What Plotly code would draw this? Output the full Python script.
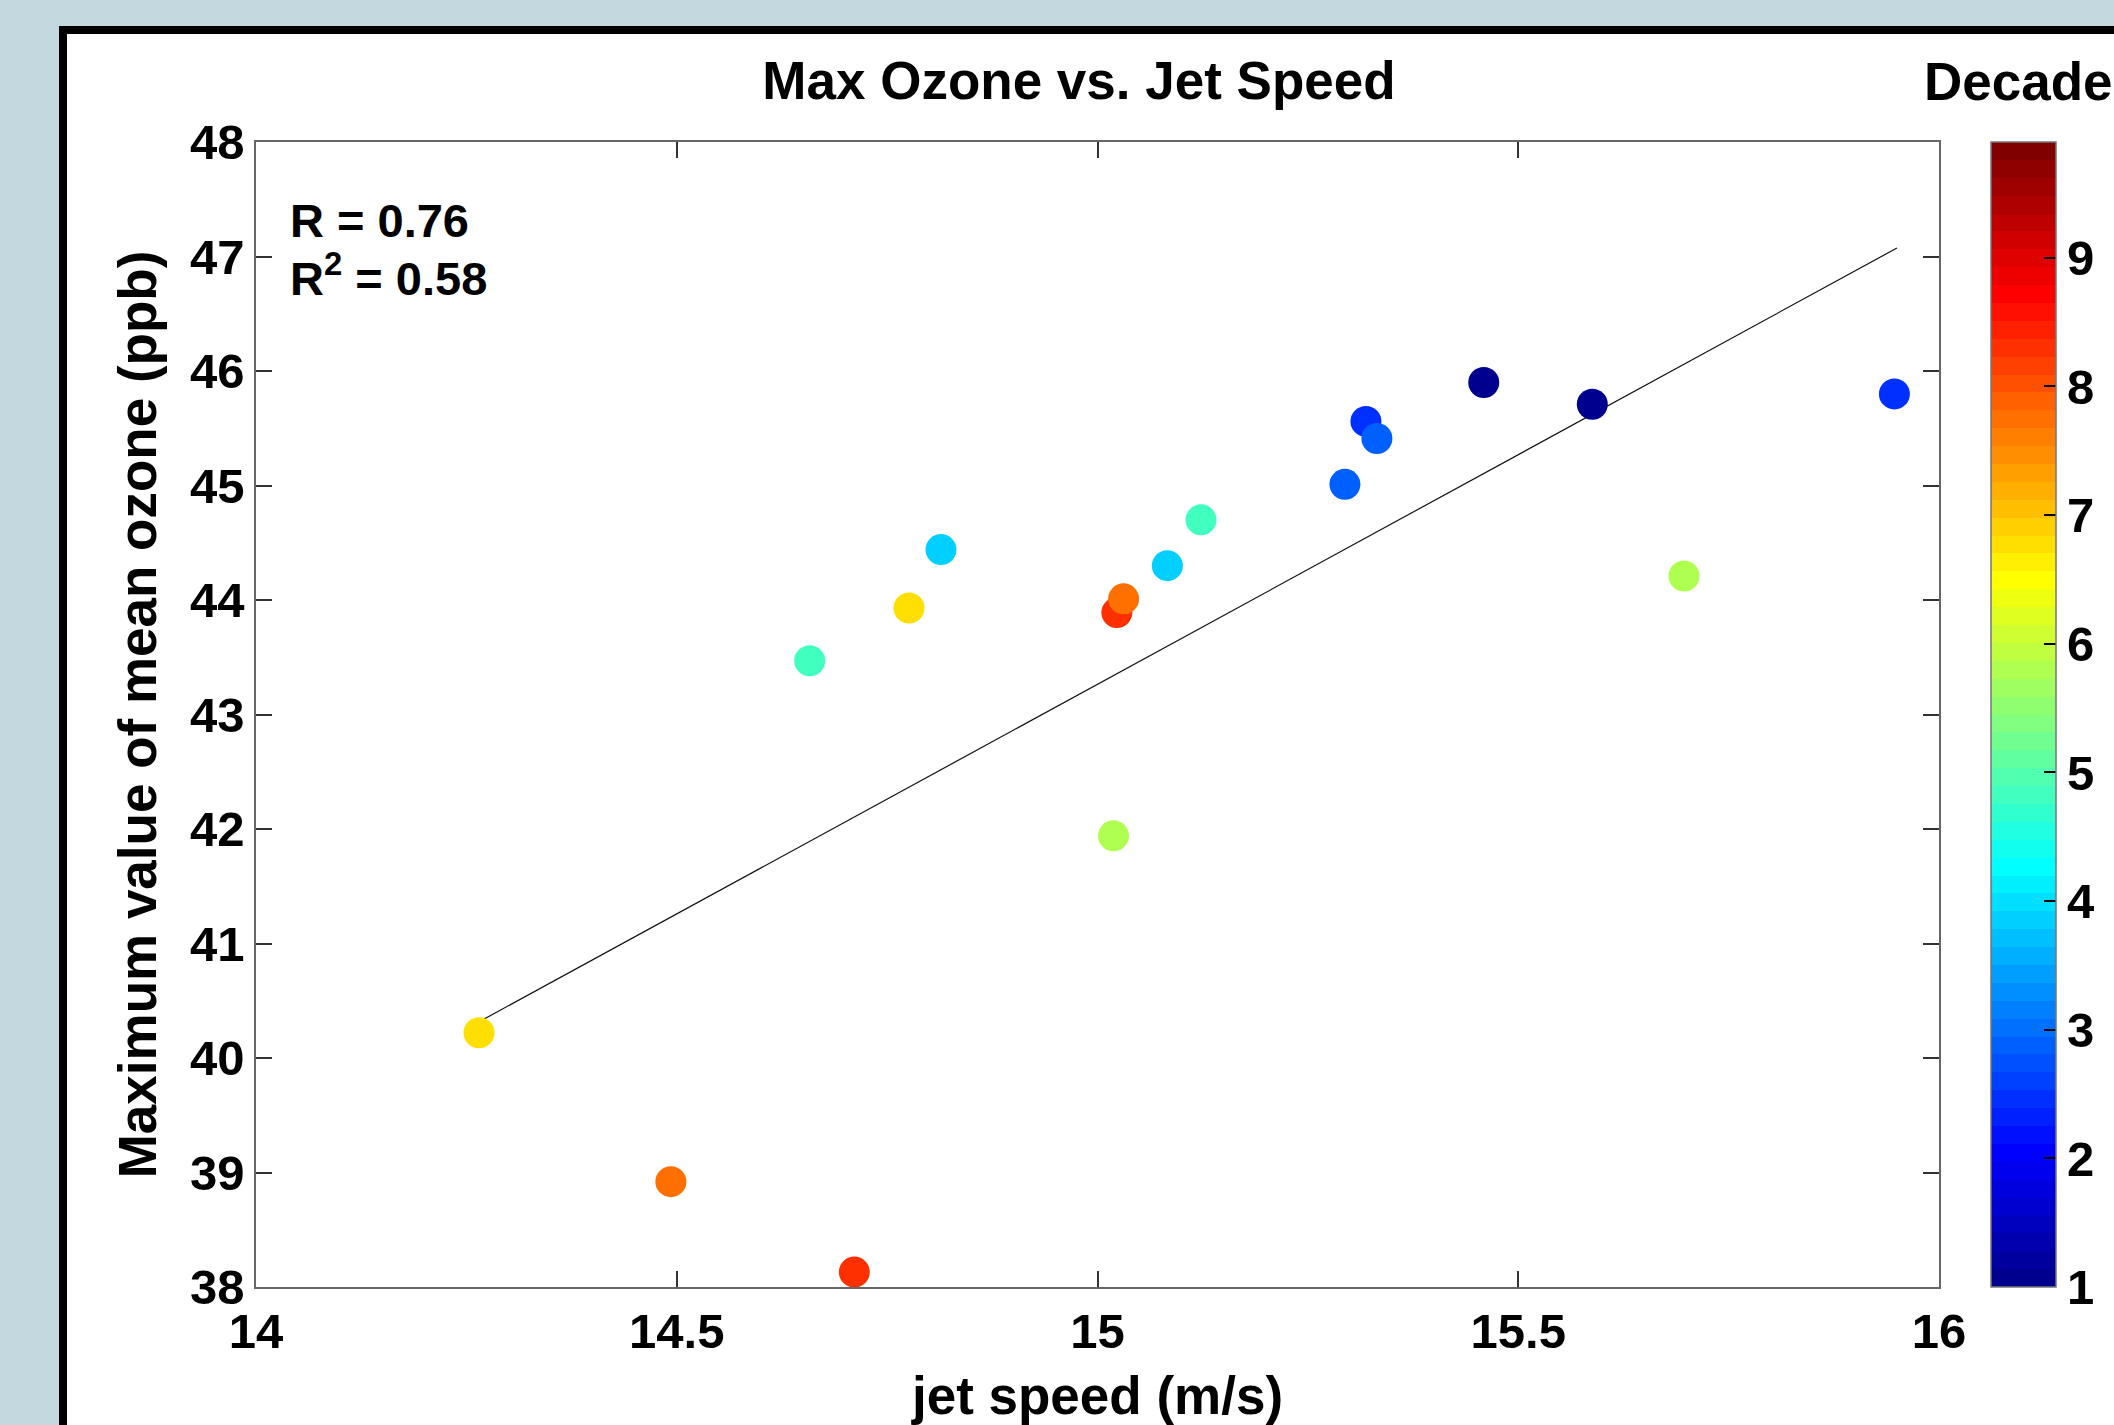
import numpy as np
import plotly.graph_objects as go

# ---------------- data ----------------
jet_speed = [14.265, 14.493, 14.711, 14.658, 14.776, 14.814, 15.019, 15.023, 15.031,
             15.083, 15.123, 15.294, 15.319, 15.332, 15.459, 15.588, 15.697, 15.947]
max_ozone = [40.22, 38.92, 38.13, 43.47, 43.93, 44.44, 41.94, 43.89, 44.01,
             44.30, 44.70, 45.01, 45.56, 45.41, 45.90, 45.71, 44.21, 45.80]
decade = [6.77, 7.74, 8.35, 4.82, 6.77, 3.85, 5.80, 8.35, 7.74,
          3.85, 4.82, 2.93, 2.46, 2.93, 1.05, 1.05, 5.80, 2.46]

fit_x = [14.265, 15.950]
fit_y = [40.316, 47.074]

x_ticks = [14, 14.5, 15, 15.5, 16]
x_ticktext = ["14", "14.5", "15", "15.5", "16"]
y_ticks = [38, 39, 40, 41, 42, 43, 44, 45, 46, 47, 48]
cbar_ticks = [1, 2, 3, 4, 5, 6, 7, 8, 9]
cbar_range = [1, 9.9]

title_text = "Max Ozone vs. Jet Speed"
x_title = "jet speed (m/s)"
y_title = "Maximum value of mean ozone (ppb)"
cbar_title = "Decade"
r_text = "R = 0.76"
r2_text = "R<sup>2</sup> = 0.58"

# ---------------- MATLAB jet(64) stepped colorscale ----------------
def jet(m=64):
    n = int(np.ceil(m / 4))
    u = np.concatenate([np.arange(1, n + 1) / n, np.ones(n - 1), np.arange(n, 0, -1) / n])
    g = int(np.ceil(n / 2)) - (1 if m % 4 == 1 else 0) + np.arange(1, len(u) + 1)
    r = g + n
    b = g - n
    g = g[g <= m]
    r = r[r <= m]
    b = b[b >= 1]
    J = np.zeros((m, 3))
    J[r - 1, 0] = u[:len(r)]
    J[g - 1, 1] = u[:len(g)]
    J[b - 1, 2] = u[len(u) - len(b):]
    return J

J = jet(64)
colorscale = []
for k, c in enumerate(J):
    col = "rgb(%d,%d,%d)" % tuple(int(round(v * 255)) for v in c)
    colorscale.append([k / 64, col])
    colorscale.append([(k + 1) / 64, col])

FONT = "Liberation Sans, Arial, Helvetica, sans-serif"
W, H = 2114, 1425
ML, MR, MT, MB = 256, 175, 142, 138
PW, PH = W - ML - MR, H - MT - MB

def px2paper_x(px):
    return (px - ML) / PW

def px2paper_y(py):
    return (H - MB - py) / PH

fig = go.Figure()

fig.add_trace(go.Scatter(
    x=fit_x, y=fit_y, mode="lines",
    line=dict(color="#111111", width=1.2),
    showlegend=False, hoverinfo="skip",
))

fig.add_trace(go.Scatter(
    x=jet_speed, y=max_ozone, mode="markers",
    marker=dict(
        size=31, color=decade, colorscale=colorscale,
        cmin=cbar_range[0], cmax=cbar_range[1],
        line=dict(width=0),
        showscale=True,
        colorbar=dict(
            x=px2paper_x(1991), xanchor="left", xref="paper",
            y=0.5, yanchor="middle", len=1, lenmode="fraction",
            thickness=65, thicknessmode="pixels",
            xpad=0, ypad=0,
            outlinewidth=1.5, outlinecolor="#777777",
            tickvals=cbar_ticks, ticks="inside", ticklen=12,
            tickcolor="black", tickwidth=1.5,
            tickfont=dict(family=FONT, size=49, color="black", weight="bold"),
        ),
    ),
    showlegend=False,
))

axis_common = dict(
    showline=True, linecolor="#666666", linewidth=1.5,
    mirror="ticks", ticks="inside", ticklen=16, tickwidth=1.5, tickcolor="#333333",
    showgrid=False, zeroline=False, automargin=False,
    tickfont=dict(family=FONT, size=49, color="black", weight="bold"),
)

fig.update_xaxes(
    range=[14, 16], tickvals=x_ticks, ticktext=x_ticktext,
    ticklabelstandoff=0,
    title=dict(text=x_title, font=dict(family=FONT, size=53, color="black", weight="bold"),
               standoff=26),
    **axis_common,
)
fig.update_yaxes(
    range=[38, 48], tickvals=y_ticks,
    title=dict(text=y_title, font=dict(family=FONT, size=53, color="black", weight="bold"),
               standoff=16),
    **axis_common,
)

fig.update_layout(
    width=W, height=H,
    margin=dict(l=ML, r=MR, t=MT, b=MB, pad=0, autoexpand=False),
    paper_bgcolor="#C4D8DF", plot_bgcolor="white",
    font=dict(family=FONT, color="black"),
    title=dict(
        text=title_text, x=px2paper_x(1079), xref="paper", xanchor="center",
        y=1 - 80 / H, yref="container", yanchor="middle",
        font=dict(family=FONT, size=53, color="black", weight="bold"),
    ),
    shapes=[dict(
        type="rect", xref="paper", yref="paper", layer="below",
        x0=px2paper_x(63), x1=px2paper_x(2300),
        y0=px2paper_y(1600), y1=px2paper_y(30),
        line=dict(color="black", width=8), fillcolor="white",
    )],
    annotations=[
        dict(text=cbar_title, xref="paper", yref="paper",
             x=px2paper_x(2018), y=px2paper_y(81), xanchor="center", yanchor="middle",
             showarrow=False, font=dict(family=FONT, size=53, color="black", weight="bold")),
        dict(text=r_text, xref="paper", yref="paper",
             x=px2paper_x(288), y=px2paper_y(220), xanchor="left", yanchor="middle",
             showarrow=False, font=dict(family=FONT, size=47, color="black", weight="bold")),
        dict(text=r2_text, xref="paper", yref="paper",
             x=px2paper_x(288), y=px2paper_y(275), xanchor="left", yanchor="middle",
             showarrow=False, font=dict(family=FONT, size=47, color="black", weight="bold")),
    ],
)

fig.write_html("out.html")
